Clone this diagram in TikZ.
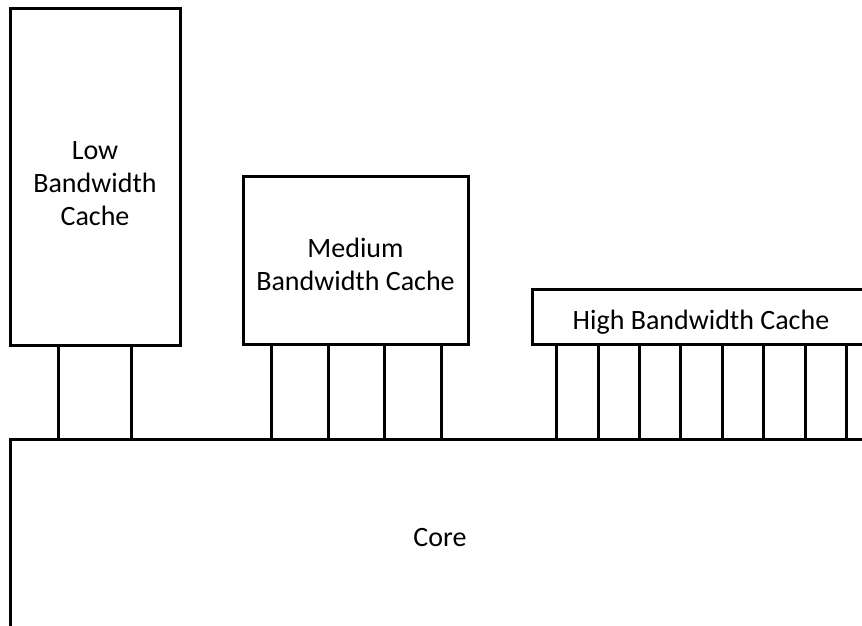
\documentclass[tikz,border=0pt]{standalone}
\usepackage{fontspec}
\setmainfont{Carlito}
\begin{document}
\begin{tikzpicture}[x=0.75pt,y=-0.75pt,
  box/.style={draw=black,line width=2.25pt,fill=white,inner sep=0pt,outer sep=0pt,anchor=north west},
  lbl/.style={font=\fontsize{21}{24.75}\selectfont,align=center,inner sep=0pt},
  wire/.style={draw=black,line width=2.25pt}]
\useasboundingbox (0,0) rectangle (862,625);
\clip (0,0) rectangle (862,625);
\fill[white] (0,0) rectangle (862,625);
% Core
\node[box,minimum width=860*0.75pt,minimum height=192*0.75pt] (core) at (10,439) {};
\node[lbl] (corelabel) at (440,537) {Core};
% Caches
\node[box,minimum width=170*0.75pt,minimum height=337*0.75pt] (low) at (10,8) {};
\node[lbl] (lowlabel) at (95,184) {Low\\Bandwidth\\Cache};
\node[box,minimum width=225*0.75pt,minimum height=168*0.75pt] (med) at (243,176) {};
\node[lbl] (medlabel) at (355.5,264) {Medium\\Bandwidth Cache};
\node[box,minimum width=338*0.75pt,minimum height=55*0.75pt] (high) at (532,289) {};
\node[lbl] (highlabel) at (701,322) {High Bandwidth Cache};
% Wires
\foreach \x [count=\i] in {58,131} {
  \coordinate (lw\i) at (\x,0);
  \draw[wire] (lw\i |- low.south) -- (lw\i |- core.north);
}
\foreach \x [count=\i] in {271,328,384,441} {
  \coordinate (mw\i) at (\x,0);
  \draw[wire] (mw\i |- med.south) -- (mw\i |- core.north);
}
\foreach \x [count=\i] in {556,598,639,680,722,763,805,846} {
  \coordinate (hw\i) at (\x,0);
  \draw[wire] (hw\i |- high.south) -- (hw\i |- core.north);
}
\end{tikzpicture}
\end{document}
